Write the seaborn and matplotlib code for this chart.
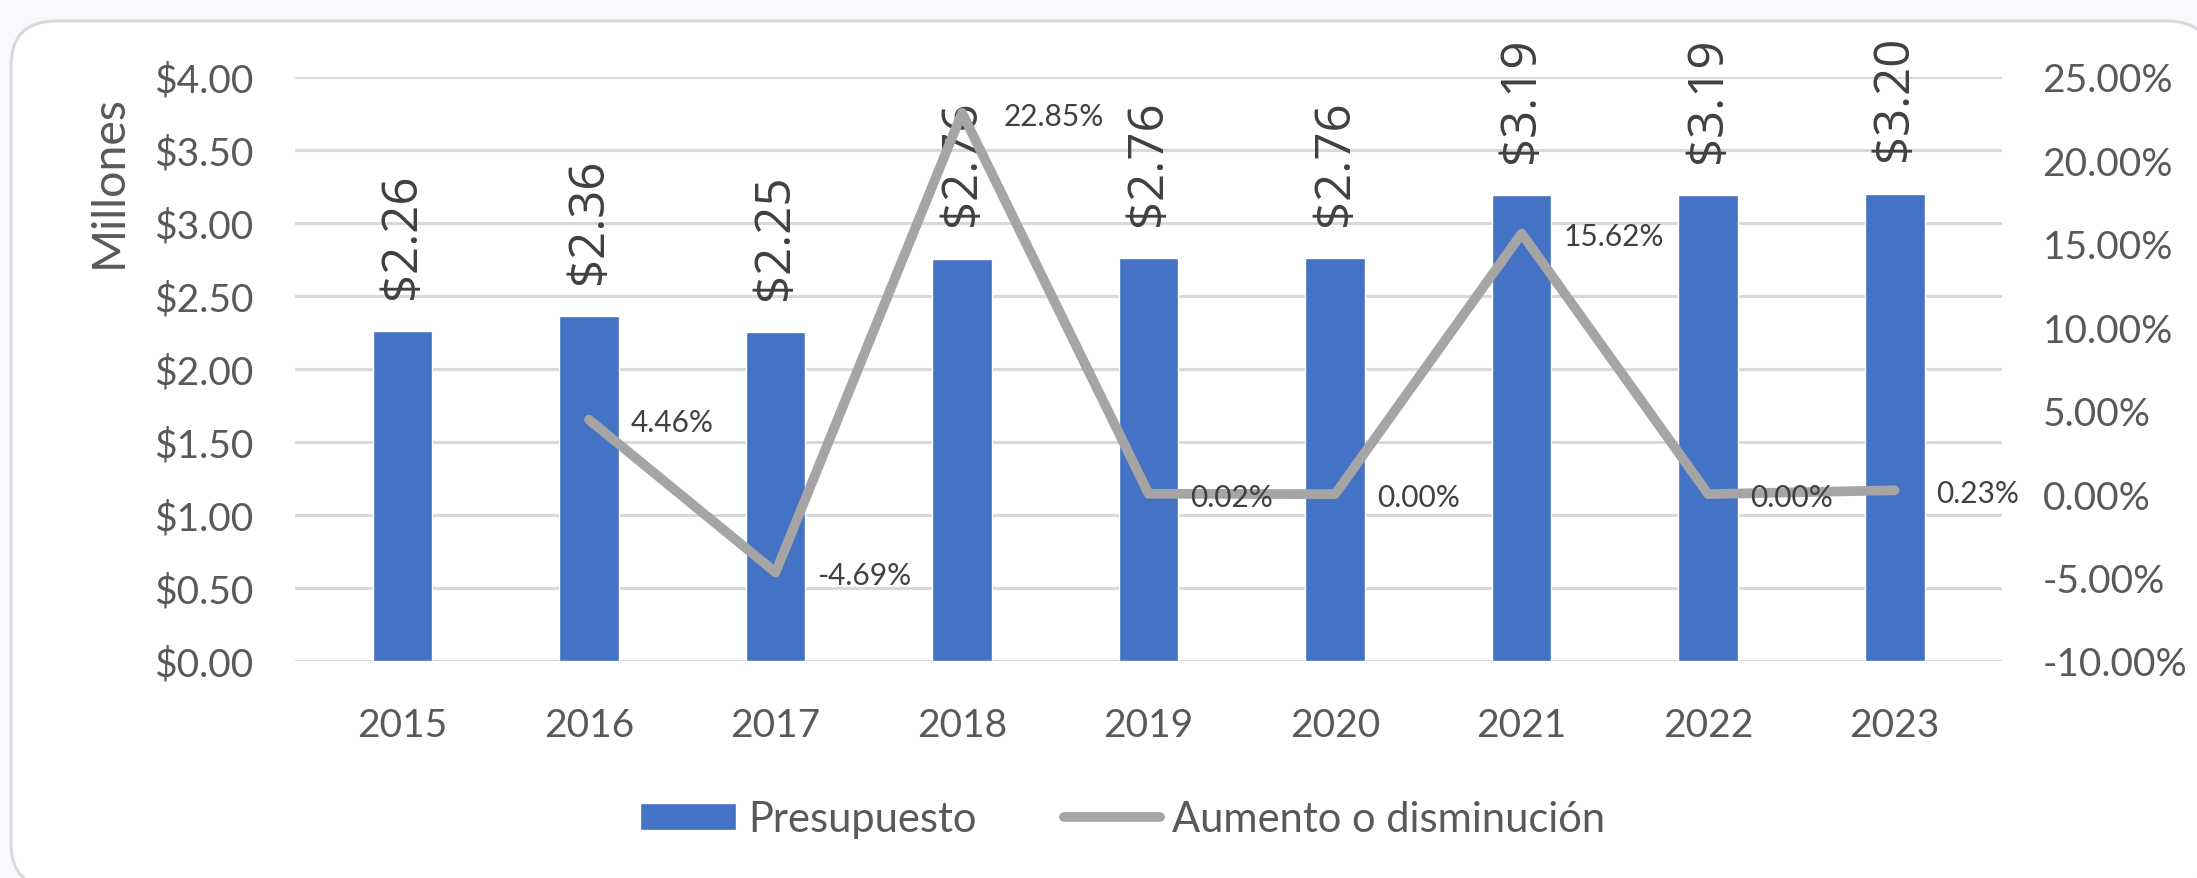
import numpy as np
import pandas as pd
import matplotlib.pyplot as plt
import seaborn as sns
from matplotlib.patches import FancyBboxPatch, Patch
from matplotlib.lines import Line2D
from matplotlib.transforms import IdentityTransform
from matplotlib.ticker import FuncFormatter

# datos del presupuesto (millones) y variacion anual (%)
years = ['2015', '2016', '2017', '2018', '2019', '2020', '2021', '2022', '2023']
presupuesto = [2.26, 2.36, 2.25, 2.756, 2.76, 2.76, 3.19, 3.19, 3.20]

cambio_years = ['2016', '2017', '2018', '2019', '2020', '2021', '2022', '2023']
cambio = [4.46, -4.69, 22.85, 0.02, 0.00, 15.62, 0.00, 0.23]

bar_color = '#4472C4'
line_color = '#A5A5A5'
text_gray = '#595959'
label_gray = '#404040'

sns.set_style('white')
plt.rcParams['font.family'] = ['Lato', 'DejaVu Sans']

fig = plt.figure(figsize=(21.97, 8.79), dpi=100, facecolor='#F9F9FD')

# marco redondeado del grafico
border = FancyBboxPatch((11, -10), 2201, 867, boxstyle='round,pad=0,rounding_size=45',
                        transform=IdentityTransform(), facecolor='white',
                        edgecolor='#D9D9D9', linewidth=2.2, zorder=-1)
fig.add_artist(border)

ax = fig.add_axes([0.1343, 0.2469, 0.777, 0.6644])
ax.patch.set_alpha(0)

df = pd.DataFrame({'anio': years, 'presupuesto': presupuesto})
sns.barplot(data=df, x='anio', y='presupuesto', color=bar_color, width=0.32,
            saturation=1, ax=ax, zorder=2)

ax.set_ylim(0, 4)
ax.set_yticks(np.arange(0, 4.01, 0.5))
ax.yaxis.set_major_formatter(FuncFormatter(lambda v, p: f'${v:.2f}'))
ax.grid(axis='y', color='#D9D9D9', lw=2.2)
ax.grid(axis='x', visible=False)
ax.set_axisbelow(True)
for s in ax.spines.values():
    s.set_visible(False)
ax.tick_params(axis='y', length=0, pad=30, labelsize=28, labelcolor=text_gray)
ax.tick_params(axis='x', length=0, pad=33, labelsize=28, labelcolor=text_gray)
ax.set_xlabel('')
ax.set_ylabel('Millones', fontsize=33.5, color=text_gray)
ax.yaxis.set_label_coords(-0.097, 0.822)

for i, v in enumerate(presupuesto):
    ax.annotate(f'${v:.2f}', (i, v), xytext=(0, 24), textcoords='offset points',
                rotation=90, ha='center', va='bottom', fontsize=35.5,
                family=['Open Sans', 'DejaVu Sans'], color=label_gray)

# eje secundario con la variacion
ax2 = ax.twinx()
pos = [years.index(y) for y in cambio_years]
sns.lineplot(x=pos, y=cambio, ax=ax2, color=line_color, lw=7,
             solid_capstyle='round', solid_joinstyle='round')
ax2.set_ylim(-10, 25)
ax2.set_yticks(np.arange(-10, 25.1, 5))
ax2.yaxis.set_major_formatter(FuncFormatter(lambda v, p: f'{v:.2f}%'))
ax2.grid(False)
for s in ax2.spines.values():
    s.set_visible(False)
ax2.tick_params(axis='y', length=0, pad=29, labelsize=28, labelcolor=text_gray)

for p, v in zip(pos, cambio):
    ax2.annotate(f'{v:.2f}%', (p, v), xytext=(30, -2), textcoords='offset points',
                 ha='left', va='center', fontsize=21.5, color=label_gray)

handles = [Patch(facecolor=bar_color, label='Presupuesto'),
           Line2D([], [], color=line_color, lw=7, solid_capstyle='round',
                  label='Aumento o disminución')]
fig.legend(handles=handles, loc='center', bbox_to_anchor=(0.511, 0.067), ncol=2,
           frameon=False, fontsize=30, handlelength=2.3, handleheight=0.6,
           handletextpad=0.3, columnspacing=2.1, labelcolor=text_gray)

fig.savefig('out.png', dpi=100)
